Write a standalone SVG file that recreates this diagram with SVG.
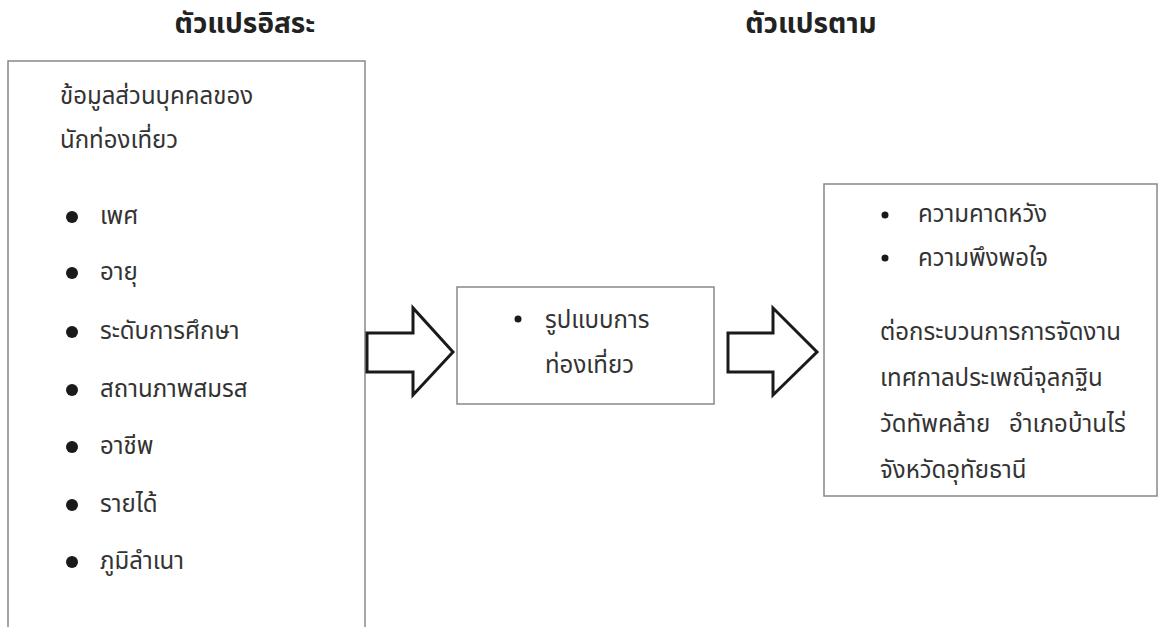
<svg xmlns="http://www.w3.org/2000/svg" width="1164" height="627" viewBox="0 0 1164 627">
<style>
.t{font-family:"Noto Sans Thai","Noto Sans","DejaVu Sans",sans-serif;font-size:24px;fill:#333}
.h{font-family:"Noto Sans Thai","Noto Sans","DejaVu Sans",sans-serif;font-size:28px;font-weight:bold;fill:#222;text-anchor:middle}
.box{fill:#fff;stroke:#888;stroke-width:1.5}
.arr{fill:#fff;stroke:#1a1a1a;stroke-width:3;stroke-linejoin:miter}
.bb{fill:#1a1a1a}
</style>
<rect width="1164" height="627" fill="#fff"/>
<text class="h" x="245" y="33">ตัวแปรอิสระ</text>
<text class="h" x="811" y="33">ตัวแปรตาม</text>
<g id="independent">
<rect class="box" x="8" y="61" width="357" height="580"/>
<text class="t" x="60" y="104">ข้อมูลส่วนบุคคลของ</text>
<text class="t" x="60" y="148">นักท่องเที่ยว</text>
<circle class="bb" cx="72" cy="217" r="6"/><text class="t" x="100" y="224">เพศ</text>
<circle class="bb" cx="72" cy="273" r="6"/><text class="t" x="100" y="280">อายุ</text>
<circle class="bb" cx="72" cy="332" r="6"/><text class="t" x="100" y="339">ระดับการศึกษา</text>
<circle class="bb" cx="72" cy="390" r="6"/><text class="t" x="100" y="397">สถานภาพสมรส</text>
<circle class="bb" cx="72" cy="447" r="6"/><text class="t" x="100" y="454">อาชีพ</text>
<circle class="bb" cx="72" cy="505" r="6"/><text class="t" x="100" y="512">รายได้</text>
<circle class="bb" cx="72" cy="562" r="6"/><text class="t" x="100" y="569">ภูมิลำเนา</text>
</g>
<g id="travel-pattern">
<rect class="box" x="457" y="287" width="257" height="117"/>
<circle class="bb" cx="518" cy="319" r="3.5"/><text class="t" x="545" y="328">รูปแบบการ</text>
<text class="t" x="545" y="373">ท่องเที่ยว</text>
</g>
<g id="dependent">
<rect class="box" x="824" y="184" width="333" height="312"/>
<circle class="bb" cx="885" cy="215" r="3.5"/><text class="t" x="918" y="222">ความคาดหวัง</text>
<circle class="bb" cx="885" cy="258" r="3.5"/><text class="t" x="918" y="266">ความพึงพอใจ</text>
<text class="t" x="880" y="340">ต่อกระบวนการการจัดงาน</text>
<text class="t" x="880" y="386">เทศกาลประเพณีจุลกฐิน</text>
<text class="t" x="880" y="432" xml:space="preserve">วัดทัพคล้าย   อำเภอบ้านไร่</text>
<text class="t" x="880" y="478">จังหวัดอุทัยธานี</text>
</g>
<g id="connectors">
<path class="arr" d="M367,333 H413 V308 L453,352 L413,395 V372 H367 Z"/>
<path class="arr" d="M728,333 H773 V308 L817,352 L773,395 V372 H728 Z"/>
</g>
</svg>
